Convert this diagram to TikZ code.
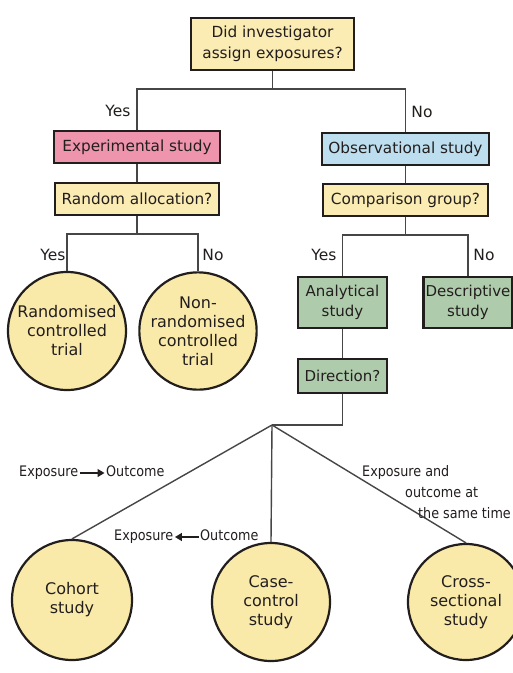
\documentclass[tikz,border=0pt]{standalone}
\usepackage{fontspec}
\setmainfont{DejaVu Sans}
\newfontfamily\labfont[FakeStretch=0.88]{DejaVu Sans}
\usetikzlibrary{arrows.meta}
\definecolor{boxyellow}{RGB}{250,236,178}
\definecolor{circyellow}{RGB}{250,234,170}
\definecolor{boxpink}{RGB}{238,148,172}
\definecolor{boxblue}{RGB}{188,222,238}
\definecolor{boxgreen}{RGB}{174,204,172}
\definecolor{inkc}{RGB}{35,30,30}
\definecolor{linec}{RGB}{70,70,70}
\tikzset{
  qbox/.style={draw=inkc,line width=2.2pt,text=inkc,inner sep=0pt,align=center,font=\fontsize{15.3}{21}\selectfont},
  ybox/.style={qbox,fill=boxyellow},
  gbox/.style={qbox,fill=boxgreen,minimum width=89pt,font=\fontsize{15}{20}\selectfont},
  circ/.style={circle,draw=inkc,line width=2.2pt,fill=circyellow,text=inkc,align=center,inner sep=0pt,font=\fontsize{16}{19}\selectfont},
  conn/.style={draw=linec,line width=1.4pt},
  lab/.style={text=inkc,inner sep=0pt,font=\fontsize{15.5}{18}\selectfont},
  slab/.style={text=inkc,inner sep=0pt,text height=10.5pt,text depth=3pt,font=\labfont\fontsize{14.5}{20}\selectfont},
  flow/.style={draw=inkc,line width=1.4pt,shorten <=1.5pt,shorten >=1.5pt,-{Triangle[length=7pt,width=8pt]}}
}
\begin{document}
\begin{tikzpicture}[x=1pt,y=-1pt]
\useasboundingbox[fill=white] (0,0) rectangle (513,673);
% boxes
\node[ybox,minimum width=163pt,minimum height=52pt] (q1) at (272.5,44) {Did investigator\\assign exposures?};
\node[qbox,fill=boxpink,minimum width=166pt,minimum height=32pt] (exp) at (137,147) {Experimental study};
\node[qbox,fill=boxblue,minimum width=167pt,minimum height=32pt] (obs) at (405.5,149) {Observational study};
\node[ybox,minimum width=164pt,minimum height=32pt] (rand) at (137,199) {Random allocation?};
\node[ybox,minimum width=165pt,minimum height=32pt] (comp) at (405.5,200) {Comparison group?};
\node[gbox,minimum height=51pt] (ana) at (342.5,302.5) {Analytical\\study};
\node[gbox,minimum height=51pt] (desc) at (468,302.5) {Descriptive\\study};
\node[gbox,minimum height=34pt] (dir) at (342.5,376) {Direction?};
% circles
\node[circ,minimum size=118pt] (rct) at (67,331) {Randomised\\controlled\\trial};
\node[circ,minimum size=117pt] (nrct) at (198,331) {Non-\\randomised\\controlled\\trial};
\node[circ,minimum size=120pt] (coh) at (72,600) {Cohort\\study};
\node[circ,minimum size=118pt] (cc) at (271,602) {Case-\\control\\study};
\node[circ,minimum size=116pt] (cs) at (466,602) {Cross-\\sectional\\study};
% junctions
\coordinate (j0) at (272.5,89);
\coordinate (j1) at (137,234);
\coordinate (j2) at (405.5,235);
\coordinate (j3) at (272,425);
% connectors
\draw[conn] (q1.south) -- (j0);
\draw[conn] (exp.north) |- (j0) -| (obs.north);
\draw[conn] (exp.south) -- (rand.north);
\draw[conn] (obs.south) -- (comp.north);
\draw[conn] (rand.south) -- (j1);
\draw[conn] (rct.north) |- (j1) -| (nrct.north);
\draw[conn] (comp.south) -- (j2);
\draw[conn] (ana.north) |- (j2) -| (desc.north);
\draw[conn] (ana.south) -- (dir.north);
\draw[conn] (dir.south) |- (j3);
\draw[conn] (j3) -- (coh.north);
\draw[conn] (j3) -- (cc.north);
\draw[conn] (j3) -- (cs.north);
% yes/no labels
\node[lab] (y1) at (118,111) {Yes};
\node[lab] (n1) at (422,112) {No};
\node[lab] (y2) at (53,255) {Yes};
\node[lab] (n2) at (213,255) {No};
\node[lab] (y3) at (324,255) {Yes};
\node[lab] (n3) at (484,255) {No};
% direction labels
\node[slab,anchor=west] (e1) at (19,473) {Exposure};
\node[slab,anchor=west] (o1) at (106,473) {Outcome};
\draw[flow] (e1.east) -- (o1.west);
\node[slab,anchor=west] (e2) at (114,537) {Exposure};
\node[slab,anchor=west] (o2) at (200,537) {Outcome};
\draw[flow] (o2.west) -- (e2.east);
\node[slab,anchor=west] (t1) at (362,473) {Exposure and};
\node[slab,anchor=west] (t2) at (405,494) {outcome at};
\node[slab,anchor=west] (t3) at (418,515) {the same time};
\end{tikzpicture}
\end{document}
